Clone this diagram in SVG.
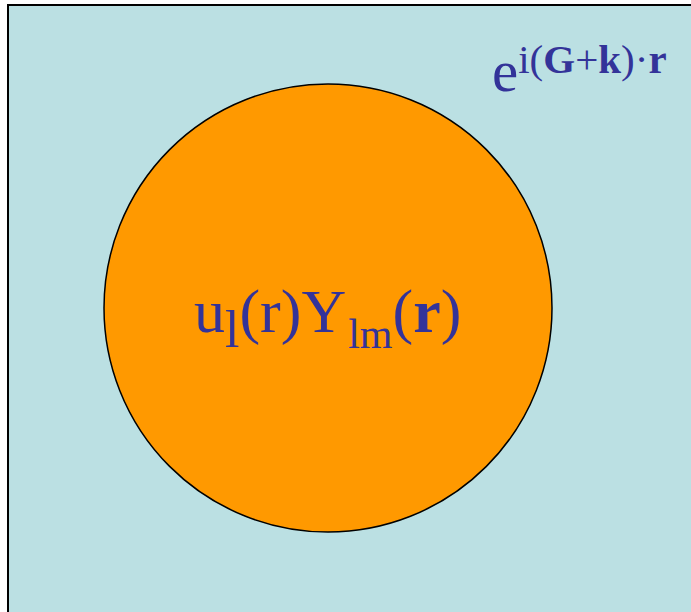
<svg xmlns="http://www.w3.org/2000/svg" width="691" height="612" viewBox="0 0 691 612">
<style>
.t{font-family:"Liberation Serif","Times New Roman",serif;fill:#333399}
.b{font-weight:bold}
</style>
<rect x="0" y="0" width="691" height="612" fill="#ffffff"/>
<g id="cell">
<rect x="8" y="5" width="700" height="620" fill="#BBE0E3" stroke="#000000" stroke-width="2"/>
</g>
<g id="sphere">
<circle cx="328" cy="308" r="224" fill="#FF9900" stroke="#000000" stroke-width="1.5"/>
<text class="t" x="194" y="332" font-size="62">u<tspan font-size="52" dy="15">l</tspan><tspan dy="-15">(r)Y</tspan><tspan font-size="42" dy="16" dx="2">lm</tspan><tspan dy="-16">(</tspan><tspan class="b">r</tspan>)</text>
</g>
<g id="planewave">
<text class="t" x="492" y="91" font-size="59">e<tspan font-size="41" dy="-18">i(<tspan class="b">G</tspan>+<tspan class="b">k</tspan>)·<tspan class="b">r</tspan></tspan></text>
</g>
</svg>
